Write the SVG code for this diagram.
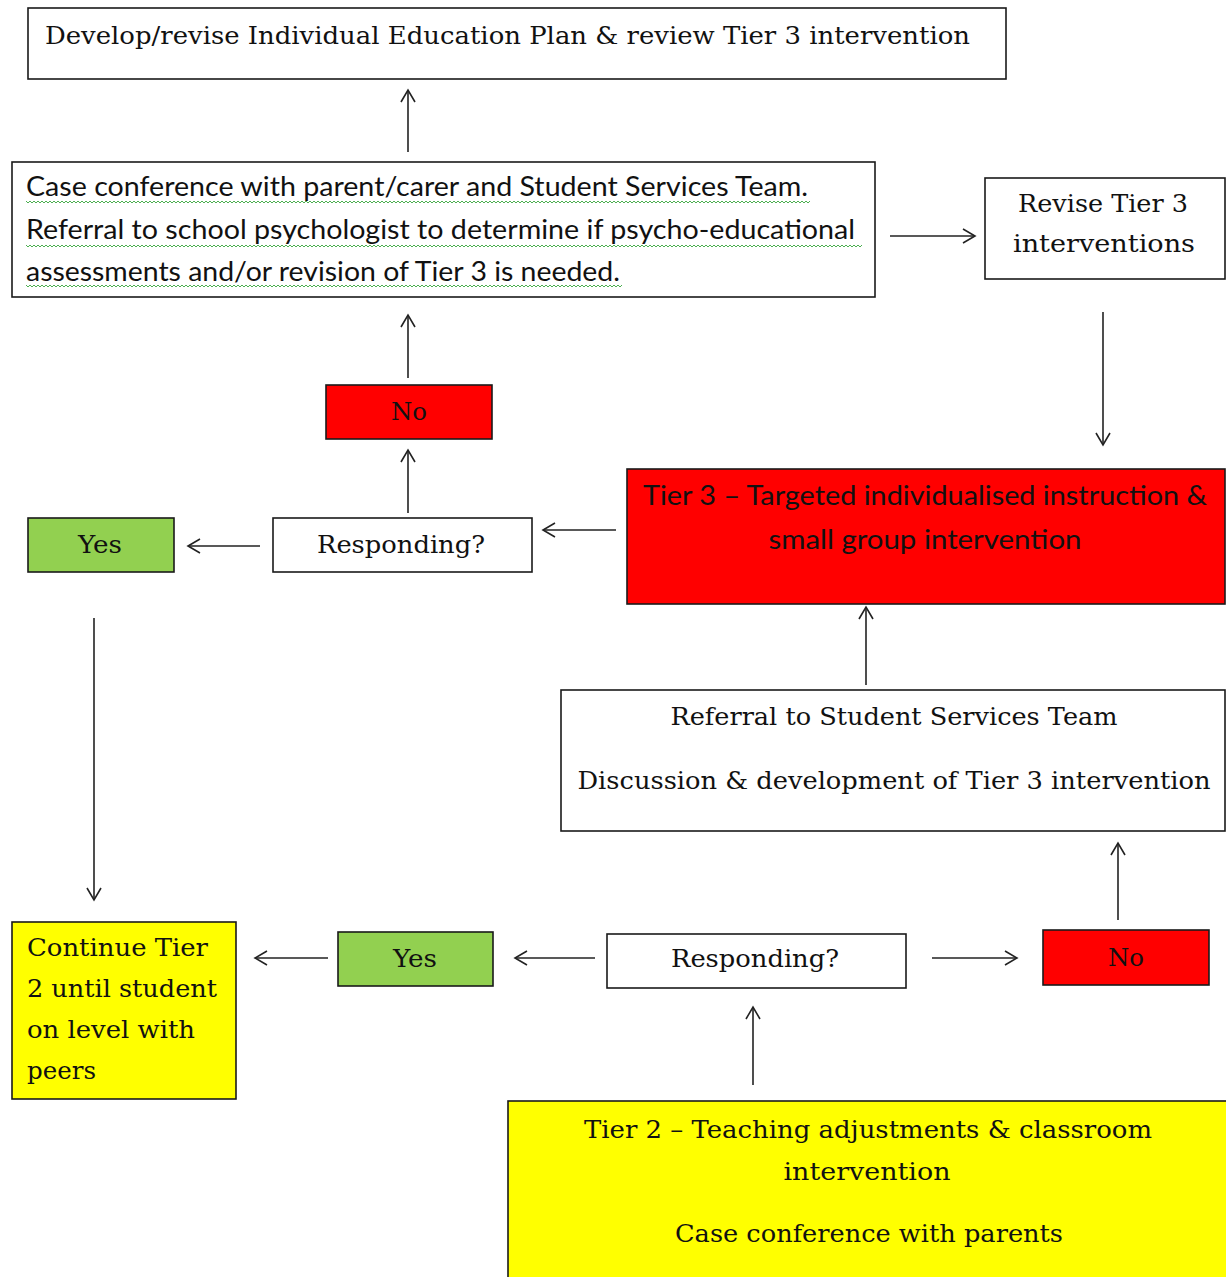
<svg xmlns="http://www.w3.org/2000/svg" width="1226" height="1277" viewBox="0 0 1226 1277">
<style>
.box{stroke:#1a1a1a;stroke-width:1.6}
.w{fill:#fff}.r{fill:#ff0000}.g{fill:#92d050}.y{fill:#ffff00}
.s{font-family:"DejaVu Serif","Liberation Serif",serif;font-size:25px;fill:#111}
.c{font-family:Lato,"Liberation Sans",sans-serif;font-size:27px;fill:#111}
.m{text-anchor:middle}
.conn line{stroke:#222;stroke-width:1.6;marker-end:url(#ah)}
</style>
<defs>
<marker id="ah" viewBox="-14 -8 16 16" markerWidth="16" markerHeight="16" refX="0" refY="0" orient="auto" markerUnits="userSpaceOnUse">
<path d="M -12 -7 L 0 0 L -12 7" fill="none" stroke="#222" stroke-width="1.6"/>
</marker>
<pattern id="wave" width="4" height="4" patternUnits="userSpaceOnUse">
<path d="M0 3 L2 1 L4 3" fill="none" stroke="#4caf50" stroke-width="1"/>
</pattern>
</defs>
<rect width="1226" height="1277" fill="#fff"/>

<g id="n-iep">
<rect class="box w" x="28" y="8" width="978" height="71"/>
<text class="s" x="45" y="44" textLength="925" lengthAdjust="spacingAndGlyphs">Develop/revise Individual Education Plan &amp; review Tier 3 intervention</text>
</g>

<g id="n-case">
<rect class="box w" x="12" y="162" width="863" height="135"/>
<text class="c" x="26" y="196" textLength="782" lengthAdjust="spacingAndGlyphs">Case conference with parent/carer and Student Services Team.</text>
<text class="c" x="26" y="239" textLength="829" lengthAdjust="spacingAndGlyphs">Referral to school psychologist to determine if psycho-educational</text>
<text class="c" x="26" y="281" textLength="594" lengthAdjust="spacingAndGlyphs">assessments and/or revision of Tier 3 is needed.</text>
<rect x="26" y="200" width="784" height="4" fill="url(#wave)"/>
<rect x="26" y="243" width="836" height="4" fill="url(#wave)"/>
<rect x="26" y="285" width="596" height="4" fill="url(#wave)"/>
</g>

<g id="n-revise">
<rect class="box w" x="985" y="178" width="240" height="101"/>
<text class="s m" x="1103" y="212" textLength="170" lengthAdjust="spacingAndGlyphs">Revise Tier 3</text>
<text class="s m" x="1104" y="252" textLength="182" lengthAdjust="spacingAndGlyphs">interventions</text>
</g>

<g id="n-no1">
<rect class="box r" x="326" y="385" width="166" height="54"/>
<text class="s m" x="409" y="420" textLength="36" lengthAdjust="spacingAndGlyphs">No</text>
</g>

<g id="n-tier3">
<rect class="box r" x="627" y="469" width="598" height="135"/>
<text class="c m" x="925" y="505" textLength="564" lengthAdjust="spacingAndGlyphs">Tier 3 – Targeted individualised instruction &amp;</text>
<text class="c m" x="925" y="549" textLength="313" lengthAdjust="spacingAndGlyphs">small group intervention</text>
</g>

<g id="n-yes1">
<rect class="box g" x="28" y="518" width="146" height="54"/>
<text class="s m" x="100" y="553" textLength="44" lengthAdjust="spacingAndGlyphs">Yes</text>
</g>

<g id="n-resp1">
<rect class="box w" x="273" y="518" width="259" height="54"/>
<text class="s m" x="401" y="553" textLength="168" lengthAdjust="spacingAndGlyphs">Responding?</text>
</g>

<g id="n-referral">
<rect class="box w" x="561" y="690" width="664" height="141"/>
<text class="s m" x="894" y="725" textLength="447" lengthAdjust="spacingAndGlyphs">Referral to Student Services Team</text>
<text class="s m" x="894" y="789" textLength="633" lengthAdjust="spacingAndGlyphs">Discussion &amp; development of Tier 3 intervention</text>
</g>

<g id="n-continue">
<rect class="box y" x="12" y="922" width="224" height="177"/>
<text class="s" x="27" y="956" textLength="181" lengthAdjust="spacingAndGlyphs">Continue Tier</text>
<text class="s" x="27" y="997" textLength="190" lengthAdjust="spacingAndGlyphs">2 until student</text>
<text class="s" x="27" y="1038" textLength="168" lengthAdjust="spacingAndGlyphs">on level with</text>
<text class="s" x="27" y="1079" textLength="69" lengthAdjust="spacingAndGlyphs">peers</text>
</g>

<g id="n-yes2">
<rect class="box g" x="338" y="932" width="155" height="54"/>
<text class="s m" x="415" y="967" textLength="44" lengthAdjust="spacingAndGlyphs">Yes</text>
</g>

<g id="n-resp2">
<rect class="box w" x="607" y="934" width="299" height="54"/>
<text class="s m" x="755" y="967" textLength="168" lengthAdjust="spacingAndGlyphs">Responding?</text>
</g>

<g id="n-no2">
<rect class="box r" x="1043" y="930" width="166" height="55"/>
<text class="s m" x="1126" y="966" textLength="36" lengthAdjust="spacingAndGlyphs">No</text>
</g>

<g id="n-tier2">
<rect class="box y" x="508" y="1101" width="730" height="190"/>
<text class="s m" x="868" y="1138" textLength="568" lengthAdjust="spacingAndGlyphs">Tier 2 – Teaching adjustments &amp; classroom</text>
<text class="s m" x="867" y="1180" textLength="167" lengthAdjust="spacingAndGlyphs">intervention</text>
<text class="s m" x="869" y="1242" textLength="388" lengthAdjust="spacingAndGlyphs">Case conference with parents</text>
</g>

<g id="connectors" class="conn">
<line x1="408" y1="152" x2="408" y2="90"/>
<line x1="890" y1="236" x2="975" y2="236"/>
<line x1="1103" y1="312" x2="1103" y2="445"/>
<line x1="408" y1="378" x2="408" y2="315"/>
<line x1="408" y1="513" x2="408" y2="450"/>
<line x1="616" y1="530" x2="543" y2="530"/>
<line x1="260" y1="546" x2="188" y2="546"/>
<line x1="94" y1="618" x2="94" y2="900"/>
<line x1="866" y1="685" x2="866" y2="607"/>
<line x1="1118" y1="920" x2="1118" y2="843"/>
<line x1="932" y1="958" x2="1017" y2="958"/>
<line x1="595" y1="958" x2="515" y2="958"/>
<line x1="328" y1="958" x2="255" y2="958"/>
<line x1="753" y1="1085" x2="753" y2="1007"/>
</g>
</svg>
